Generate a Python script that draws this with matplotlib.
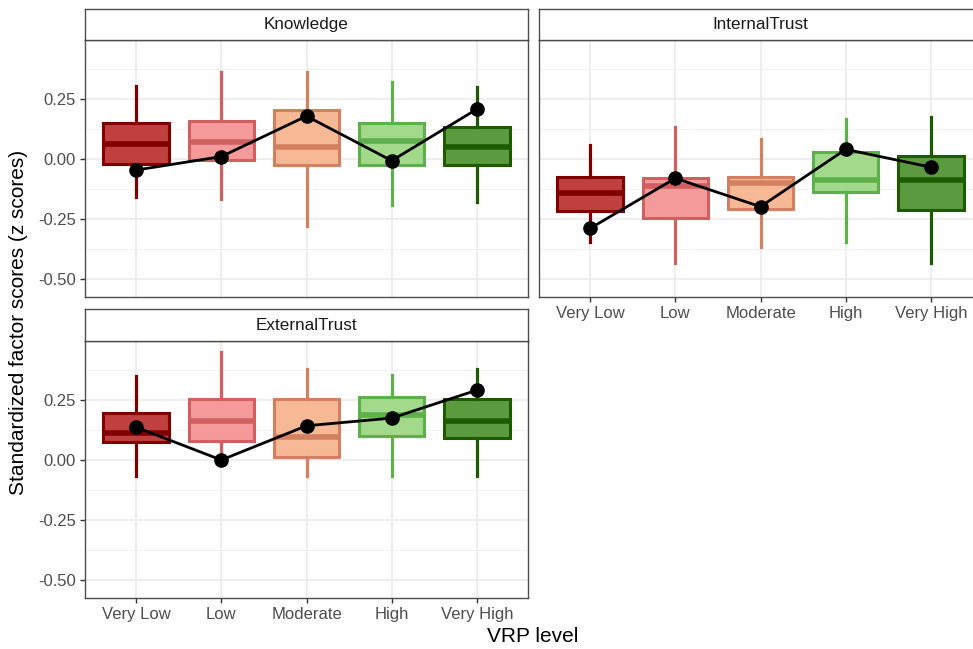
import matplotlib
matplotlib.use("Agg")
import matplotlib.pyplot as plt
from matplotlib.ticker import FixedLocator

plt.rcParams['font.family'] = ['Liberation Sans', 'DejaVu Sans']

levels = ["Very Low", "Low", "Moderate", "High", "Very High"]
facets = ["Knowledge", "InternalTrust", "ExternalTrust"]

# Knowledge
know_whislo = [-0.156, -0.167, -0.278, -0.191, -0.177]
know_q1 = [-0.021, -0.004, -0.025, -0.025, -0.025]
know_med = [0.062, 0.069, 0.051, 0.076, 0.051]
know_q3 = [0.148, 0.159, 0.203, 0.148, 0.134]
know_whishi = [0.303, 0.362, 0.362, 0.321, 0.297]
know_mean = [-0.046, 0.010, 0.178, -0.007, 0.207]

# InternalTrust
int_whislo = [-0.343, -0.433, -0.364, -0.343, -0.433]
int_q1 = [-0.216, -0.246, -0.209, -0.136, -0.212]
int_med = [-0.142, -0.111, -0.101, -0.087, -0.087]
int_q3 = [-0.073, -0.078, -0.073, 0.028, 0.014]
int_whishi = [0.058, 0.134, 0.082, 0.165, 0.176]
int_mean = [-0.288, -0.080, -0.198, 0.040, -0.034]

# ExternalTrust
ext_whislo = [-0.065, 0.000, -0.065, -0.065, -0.065]
ext_q1 = [0.073, 0.078, 0.014, 0.101, 0.090]
ext_med = [0.111, 0.161, 0.094, 0.188, 0.163]
ext_q3 = [0.194, 0.253, 0.253, 0.263, 0.253]
ext_whishi = [0.350, 0.447, 0.378, 0.354, 0.378]
ext_mean = [0.136, 0.000, 0.142, 0.174, 0.290]

fill_colors = ["#c04040", "#f59a9a", "#f7b895", "#a3d98b", "#5c9a40"]
edge_colors = ["#800000", "#d06060", "#d38060", "#5db04a", "#1e5a00"]

data = {
    "Knowledge": (know_whislo, know_q1, know_med, know_q3, know_whishi, know_mean),
    "InternalTrust": (int_whislo, int_q1, int_med, int_q3, int_whishi, int_mean),
    "ExternalTrust": (ext_whislo, ext_q1, ext_med, ext_q3, ext_whishi, ext_mean),
}

W, H = 973, 649
fig = plt.figure(figsize=(W / 100, H / 100), dpi=100)

def frac_rect(x0, y0, x1, y1):
    return [x0 / W, 1 - y1 / H, (x1 - x0) / W, (y1 - y0) / H]

panels = {
    "Knowledge": ((85, 40, 528, 297), (85, 9, 528, 40), False, True),
    "InternalTrust": ((539, 40, 982, 297), (539, 9, 982, 40), True, False),
    "ExternalTrust": ((85, 341, 528, 598), (85, 309, 528, 341), True, True),
}

border_col = "#4d4d4d"
for name in facets:
    rect, srect, show_x, show_y = panels[name]
    ax = fig.add_axes(frac_rect(*rect))
    wlo, q1, med, q3, whi, mean = data[name]
    stats = []
    for i in range(len(levels)):
        stats.append(dict(whislo=wlo[i], q1=q1[i], med=med[i], q3=q3[i],
                          whishi=whi[i], fliers=[]))
    pos = list(range(1, len(levels) + 1))
    bp = ax.bxp(stats, positions=pos, widths=0.77, patch_artist=True,
                showcaps=False, showfliers=False, zorder=2)
    for i in range(len(levels)):
        b = bp['boxes'][i]
        b.set_facecolor(fill_colors[i])
        b.set_edgecolor(edge_colors[i])
        b.set_linewidth(2.2)
        bp['medians'][i].set_color(edge_colors[i])
        bp['medians'][i].set_linewidth(4.0)
        for w in bp['whiskers'][2 * i:2 * i + 2]:
            w.set_color(edge_colors[i])
            w.set_linewidth(2.3)
    ax.plot(pos, mean, color="black", lw=2.0, marker="o", ms=9.5, zorder=4)

    ax.set_xlim(0.4, 5.6)
    ax.set_ylim(-0.573, 0.494)
    ax.yaxis.set_major_locator(FixedLocator([-0.5, -0.25, 0.0, 0.25]))
    ax.yaxis.set_minor_locator(FixedLocator([-0.375, -0.125, 0.125, 0.375]))
    ax.set_xticks(pos)
    ax.grid(True, which="major", color="#ebebeb", lw=1.2, zorder=0)
    ax.grid(True, which="minor", axis="y", color="#f0f0f0", lw=0.7, zorder=0)
    ax.set_axisbelow(True)
    ax.tick_params(which="minor", length=0)
    ax.tick_params(which="major", length=3.5, width=1.0, color="#333333",
                   labelcolor="#4d4d4d", labelsize=12, pad=3)
    if show_x:
        ax.set_xticklabels(levels)
    else:
        ax.set_xticklabels([])
        ax.tick_params(axis="x", length=0)
    if show_y:
        ax.set_yticklabels(["-0.50", "-0.25", "0.00", "0.25"])
    else:
        ax.set_yticklabels([])
        ax.tick_params(axis="y", length=0)
    for s in ax.spines.values():
        s.set_color(border_col)
        s.set_linewidth(1.0)

    sax = fig.add_axes(frac_rect(*srect))
    sax.set_xticks([])
    sax.set_yticks([])
    sax.set_facecolor("white")
    for s in sax.spines.values():
        s.set_color(border_col)
        s.set_linewidth(1.0)
    sax.text(0.5, 0.5, name, ha="center", va="center", fontsize=12.3,
             color="#1a1a1a", transform=sax.transAxes)

fig.text(533 / W, 1 - 637 / H, "VRP level", ha="center", va="center",
         fontsize=15, color="black")
fig.text(19 / W, 1 - 322 / H, "Standardized factor scores (z scores)",
         ha="center", va="center", rotation=90, fontsize=15, color="black")

fig.savefig("out.png", dpi=100)
